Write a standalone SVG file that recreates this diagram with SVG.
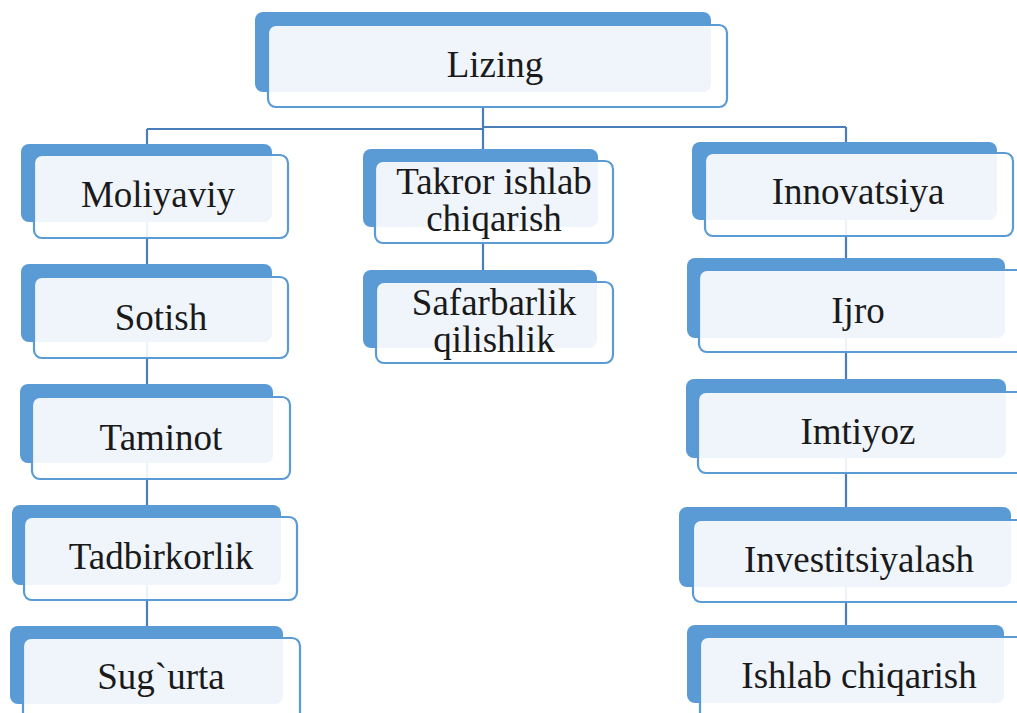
<svg xmlns="http://www.w3.org/2000/svg" width="1017" height="713" viewBox="0 0 1017 713">
<style>
.back{fill:#5B9BD5;}
.front{fill:#FFFFFF;fill-opacity:0.9;stroke:#5B9BD5;stroke-width:2.2;}
.lbl{font-family:"Liberation Serif","Times New Roman",serif;font-size:37px;fill:#1a1a1a;text-anchor:middle;}
.conn{stroke:#4A7EBB;stroke-width:2.2;fill:none;}
</style>
<rect width="1017" height="713" fill="#FFFFFF"/>
<g id="connectors">
<path class="conn" d="M483,107 V128 M147,129 H483 M483,127 H846 M147,129 V626 M483,128 V270 M846,127 V625"/>
</g>
<g id="n-lizing">
<rect class="back" x="255" y="12" width="456" height="80" rx="8"/>
<rect class="front" x="268" y="25" width="459" height="82" rx="8"/>
<text class="lbl" x="495" y="77">Lizing</text>
</g>
<g id="n-moliyaviy">
<rect class="back" x="21" y="144" width="251" height="78" rx="8"/>
<rect class="front" x="34" y="155" width="254" height="83" rx="8"/>
<text class="lbl" x="158" y="207">Moliyaviy</text>
</g>
<g id="n-sotish">
<rect class="back" x="21" y="264" width="251" height="78" rx="8"/>
<rect class="front" x="34" y="277" width="254" height="81" rx="8"/>
<text class="lbl" x="161" y="330">Sotish</text>
</g>
<g id="n-taminot">
<rect class="back" x="20" y="384" width="253" height="79" rx="8"/>
<rect class="front" x="32" y="397" width="258" height="82" rx="8"/>
<text class="lbl" x="161" y="450">Taminot</text>
</g>
<g id="n-tadbirkorlik">
<rect class="back" x="12" y="505" width="269" height="80" rx="8"/>
<rect class="front" x="24" y="517" width="273" height="83" rx="8"/>
<text class="lbl" x="161" y="569">Tadbirkorlik</text>
</g>
<g id="n-sugurta">
<rect class="back" x="10" y="626" width="273" height="78" rx="8"/>
<rect class="front" x="23" y="638" width="277" height="84" rx="8"/>
<text class="lbl" x="161" y="689">Sug`urta</text>
</g>
<g id="n-takror">
<rect class="back" x="363" y="149" width="235" height="78" rx="8"/>
<rect class="front" x="375" y="161" width="238" height="82" rx="8"/>
<text class="lbl" x="494" y="194">Takror ishlab</text>
<text class="lbl" x="494" y="231">chiqarish</text>
</g>
<g id="n-safarbarlik">
<rect class="back" x="363" y="270" width="234" height="78" rx="8"/>
<rect class="front" x="376" y="282" width="237" height="81" rx="8"/>
<text class="lbl" x="494" y="315">Safarbarlik</text>
<text class="lbl" x="494" y="352">qilishlik</text>
</g>
<g id="n-innovatsiya">
<rect class="back" x="692" y="142" width="305" height="78" rx="8"/>
<rect class="front" x="705" y="153" width="308" height="83" rx="8"/>
<text class="lbl" x="858" y="204">Innovatsiya</text>
</g>
<g id="n-ijro">
<rect class="back" x="687" y="258" width="318" height="80" rx="8"/>
<rect class="front" x="699" y="270" width="330" height="82" rx="8"/>
<text class="lbl" x="858" y="323">Ijro</text>
</g>
<g id="n-imtiyoz">
<rect class="back" x="686" y="379" width="320" height="79" rx="8"/>
<rect class="front" x="698" y="392" width="330" height="81" rx="8"/>
<text class="lbl" x="858" y="444">Imtiyoz</text>
</g>
<g id="n-investitsiyalash">
<rect class="back" x="679" y="507" width="332" height="80" rx="8"/>
<rect class="front" x="693" y="520" width="335" height="82" rx="8"/>
<text class="lbl" x="859" y="572">Investitsiyalash</text>
</g>
<g id="n-ishlab">
<rect class="back" x="687" y="625" width="317" height="78" rx="8"/>
<rect class="front" x="700" y="637" width="330" height="90" rx="8"/>
<text class="lbl" x="859" y="688">Ishlab chiqarish</text>
</g>
</svg>
